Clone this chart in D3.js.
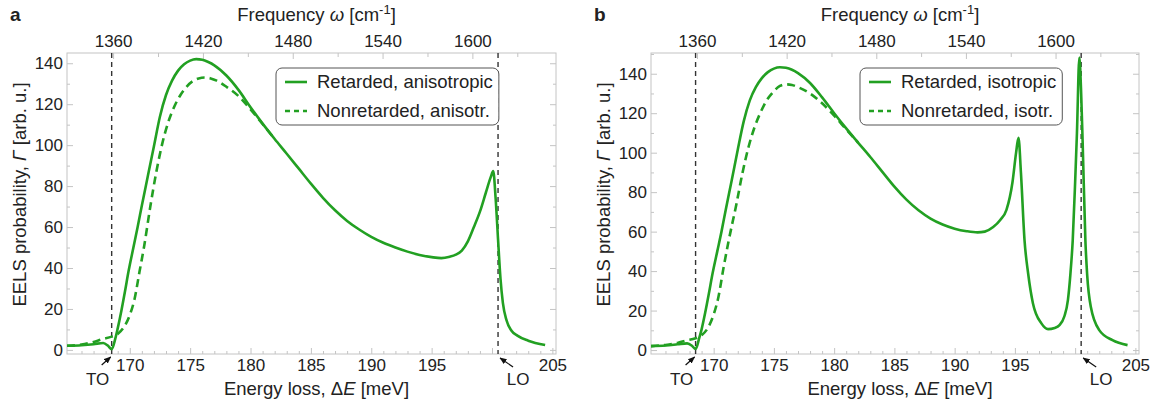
<!doctype html>
<html>
<head>
<meta charset="utf-8">
<title>EELS probability</title>
<script src="https://cdn.jsdelivr.net/npm/d3@7"></script>
<style>
  body { margin: 0; background: #fff; }
  text { font-family: "Liberation Sans", Arial, sans-serif; fill: #222; }
</style>
</head>
<body>
<script>
// ---- data ----
// panel a: retarded, anisotropic
const energyRetA = [164.8, 166, 167, 167.8, 168.2, 168.5, 168.8, 169, 169.3, 169.6, 169.9, 170.3, 170.65, 171, 171.5, 172, 172.5, 173, 173.5, 174, 174.5, 175, 175.5, 176, 176.5, 177, 178, 179, 180, 181, 182, 183, 184, 185, 186, 187, 188, 189, 190, 191, 192, 193, 194, 195, 195.8, 196.5, 197, 197.5, 198, 198.5, 199, 199.5, 199.9, 200.1, 200.3, 200.5, 200.7, 200.9, 201.2, 201.6, 202.1, 203, 204.4];
const retardedAniso = [2.0, 2.3, 2.8, 3.4, 2.0, 0.3, 5.5, 10.5, 19, 28.5, 38.5, 50, 60, 70.5, 85, 99.5, 114, 124.5, 131.5, 136.4, 139.5, 141.3, 142, 141.7, 140.6, 139, 134, 127, 118.5, 110.5, 103, 95.8, 88.5, 81.2, 74.3, 68.2, 63, 58.8, 55.2, 52.3, 50, 48, 46.4, 45.3, 44.8, 45.5, 46.5, 48.5, 53, 60, 67.5, 77, 84.5, 87.3, 74, 54, 35, 23, 14.5, 9.5, 7, 4.5, 2.4];
// panel a: nonretarded, anisotropic (drawn until it merges with the retarded curve)
const energyNonA = [164.8, 166, 167, 167.7, 168.5, 169, 169.5, 170, 170.4, 170.8, 171.2, 171.7, 172.2, 172.7, 173.2, 173.7, 174.2, 174.7, 175.2, 175.7, 176.2, 176.7, 177.2, 178, 179, 180, 181, 182];
const nonretardedAniso = [2.0, 2.6, 3.9, 5.2, 6.5, 7.8, 11, 17, 25, 38, 51, 70, 87, 101, 111.5, 119, 124.5, 128.5, 131.2, 132.6, 133, 132.6, 131.5, 128.5, 124, 117.5, 110.3, 103];

// panel b: retarded, isotropic
const energyRetB = [164.8, 166, 167, 167.8, 168.2, 168.5, 168.8, 169, 169.3, 169.6, 169.9, 170.3, 170.65, 171, 171.5, 172, 172.5, 173, 173.5, 174, 174.5, 175, 175.5, 176, 176.5, 177, 178, 179, 180, 181, 182, 183, 184, 185, 186, 187, 188, 189, 190, 191, 191.9, 192.5, 193.2, 193.8, 194.3, 194.8, 195.1, 195.3, 195.5, 195.8, 196.1, 196.5, 197.2, 197.75, 198.3, 198.7, 199.1, 199.4, 199.6, 199.8, 200, 200.15, 200.35, 200.5, 200.62, 200.85, 201, 201.3, 202, 203.1, 204.35];
const retardedIso = [2.0, 2.3, 2.9, 3.4, 2.2, 0.5, 6, 10.5, 19, 28.5, 38.5, 50, 60, 71, 86, 101.5, 116, 126.5, 133.2, 137.8, 140.8, 142.6, 143.3, 143, 142, 140.3, 135.3, 128, 120, 112.3, 105, 97.8, 90.3, 82.8, 76.2, 70.8, 66.6, 63.6, 61.5, 60.2, 59.6, 60, 62.3, 66, 71, 85, 100, 107.6, 90, 55.6, 38.8, 23.6, 13.5, 10.6, 11.2, 12.6, 17, 25.3, 38, 55.6, 85, 110, 148.2, 130, 106, 55.6, 38, 21.9, 10.1, 5.0, 2.5];
// panel b: nonretarded, isotropic
const energyNonB = [164.8, 166, 167, 167.7, 168.5, 169, 169.5, 170, 170.4, 170.8, 171.2, 171.9, 172.4, 172.9, 173.4, 173.9, 174.4, 174.9, 175.5, 176, 176.5, 177, 178, 179, 180, 181, 182];
const nonretardedIso = [2.0, 2.6, 3.6, 4.8, 6.0, 7.5, 11, 18, 27, 41, 54, 74.3, 90, 103, 113, 120.5, 126.5, 130.5, 133.8, 134.6, 134.3, 133.2, 130, 125, 118.8, 111.8, 105];

// phonon energies (meV) and axis ticks
const phononTO = 168.5;
const phononLO = 200.5;
const energyTicks = [170, 175, 180, 185, 190, 195, 205];
const frequencyTicks = [1360, 1420, 1480, 1540, 1600];
const frequencyMinor = [1390, 1450, 1510, 1570, 1630];
const probabilityTicks = [0, 20, 40, 60, 80, 100, 120, 140];

const energyDomain = [164.8, 205.3];
const meVtoCm = 8.06554;
const green = '#22a022';
const tickGray = '#c4c4c4';

const svg = d3.select('body').append('svg')
    .attr('width', 1159)
    .attr('height', 408);

const defs = svg.append('defs');
defs.append('marker')
    .attr('id', 'arrow')
    .attr('viewBox', '0 0 10 10')
    .attr('refX', 9).attr('refY', 5)
    .attr('markerWidth', 6).attr('markerHeight', 6)
    .attr('orient', 'auto')
  .append('path')
    .attr('d', 'M0,1 L10,5 L0,9 Z')
    .attr('fill', '#111');

function styleAxis(g) {
  g.select('.domain').remove();
  g.attr('font-family', null).attr('font-size', null);
  g.selectAll('line').attr('stroke', tickGray);
  g.selectAll('text').attr('fill', '#222').style('font-size', '17px');
}

function drawPanel(p) {
  const x = d3.scaleLinear().domain(energyDomain).range([p.left, p.right]);
  const xTop = d3.scaleLinear().domain(energyDomain.map(d => d * meVtoCm)).range([p.left, p.right]);
  const y = d3.scaleLinear().domain(p.yDomain).range([p.bottom, p.top]);
  const g = svg.append('g');

  // minor ticks
  const minorE = d3.range(166, 205, 1).filter(d => !energyTicks.includes(d) && d !== 200);
  g.append('g').attr('transform', `translate(0,${p.bottom})`)
      .call(d3.axisBottom(x).tickValues(minorE).tickSize(-3).tickFormat(''))
      .call(styleAxis);
  g.append('g').attr('transform', `translate(0,${p.top})`)
      .call(d3.axisTop(xTop).tickValues(frequencyMinor).tickSize(-4).tickFormat(''))
      .call(styleAxis);
  const minorY = d3.range(10, p.yDomain[1], 20);
  g.append('g').attr('transform', `translate(${p.left},0)`)
      .call(d3.axisLeft(y).tickValues(minorY).tickSize(-3).tickFormat(''))
      .call(styleAxis);
  g.append('g').attr('transform', `translate(${p.right},0)`)
      .call(d3.axisRight(y).tickValues(minorY).tickSize(-3).tickFormat(''))
      .call(styleAxis);

  // major ticks + labels
  g.append('g').attr('transform', `translate(0,${p.bottom})`)
      .call(d3.axisBottom(x).tickValues(energyTicks.concat([200])).tickSize(-6).tickPadding(5)
        .tickFormat(d => d === 200 ? '' : d))
      .call(styleAxis);
  g.append('g').attr('transform', `translate(0,${p.top})`)
      .call(d3.axisTop(xTop).tickValues(frequencyTicks).tickSize(-6).tickPadding(6)
        .tickFormat(d3.format('d')))
      .call(styleAxis);
  g.append('g').attr('transform', `translate(${p.left},0)`)
      .call(d3.axisLeft(y).tickValues(probabilityTicks).tickSize(-6).tickPadding(4))
      .call(styleAxis);
  g.append('g').attr('transform', `translate(${p.right},0)`)
      .call(d3.axisRight(y).tickValues(probabilityTicks).tickSize(-6).tickFormat(''))
      .call(styleAxis);

  // frame
  g.append('rect')
      .attr('x', p.left).attr('y', p.top)
      .attr('width', p.right - p.left).attr('height', p.bottom - p.top)
      .attr('fill', 'none').attr('stroke', tickGray).attr('stroke-width', 1);

  // phonon lines
  [phononTO, phononLO].forEach(e => {
    g.append('line')
        .attr('x1', x(e)).attr('x2', x(e))
        .attr('y1', p.top).attr('y2', p.bottom)
        .attr('stroke', '#333').attr('stroke-width', 1.4)
        .attr('stroke-dasharray', '5,4');
  });

  // curves
  const clipId = 'clip-' + p.name;
  defs.append('clipPath').attr('id', clipId)
    .append('rect')
      .attr('x', p.left).attr('y', p.top - 2)
      .attr('width', p.right - p.left).attr('height', p.bottom - p.top + 2);
  const line = d3.line()
      .x(d => x(d[0]))
      .y(d => y(d[1]))
      .curve(d3.curveMonotoneX);
  const curves = g.append('g').attr('clip-path', `url(#${clipId})`);
  curves.append('path')
      .attr('d', line(d3.zip(p.nonE, p.nonV)))
      .attr('fill', 'none').attr('stroke', green).attr('stroke-width', 2.6)
      .attr('stroke-dasharray', '8,5');
  curves.append('path')
      .attr('d', line(d3.zip(p.retE, p.retV)))
      .attr('fill', 'none').attr('stroke', green).attr('stroke-width', 2.6);

  // TO / LO labels with arrows
  const xt = x(phononTO), xl = x(phononLO);
  g.append('line')
      .attr('x1', xt - 10).attr('y1', p.bottom + 11)
      .attr('x2', xt - 1).attr('y2', p.bottom + 3)
      .attr('stroke', '#111').attr('stroke-width', 1.2)
      .attr('marker-end', 'url(#arrow)');
  g.append('text').attr('x', xt - 14).attr('y', 385)
      .attr('text-anchor', 'middle').style('font-size', '17px').text('TO');
  g.append('line')
      .attr('x1', xl + 15).attr('y1', p.bottom + 13)
      .attr('x2', xl + 2).attr('y2', p.bottom + 4)
      .attr('stroke', '#111').attr('stroke-width', 1.2)
      .attr('marker-end', 'url(#arrow)');
  g.append('text').attr('x', xl + 20).attr('y', 385)
      .attr('text-anchor', 'middle').style('font-size', '17px').text('LO');

  // axis titles
  const cx = (p.left + p.right) / 2;
  const top = g.append('text').attr('x', cx + 5).attr('y', 21)
      .attr('text-anchor', 'middle').style('font-size', '18.5px');
  top.append('tspan').text('Frequency ');
  top.append('tspan').attr('font-style', 'italic').text('ω');
  top.append('tspan').text(' [cm');
  top.append('tspan').attr('dy', -7).style('font-size', '13px').text('-1');
  top.append('tspan').attr('dy', 7).text(']');

  const bot = g.append('text').attr('x', cx + 5).attr('y', 395)
      .attr('text-anchor', 'middle').style('font-size', '18.5px');
  bot.append('tspan').text('Energy loss, Δ');
  bot.append('tspan').attr('font-style', 'italic').text('E');
  bot.append('tspan').text(' [meV]');

  const yt = g.append('text')
      .attr('transform', `translate(${p.left - 41},${(p.top + p.bottom) / 2 - 9}) rotate(-90)`)
      .attr('text-anchor', 'middle').style('font-size', '18.5px');
  yt.append('tspan').text('EELS probability, ');
  yt.append('tspan').attr('font-style', 'italic').text('Γ');
  yt.append('tspan').text(' [arb. u.]');

  // panel letter
  g.append('text').attr('x', p.left - 57).attr('y', 21)
      .attr('font-weight', 'bold').style('font-size', '19px').text(p.name);

  // legend
  const lx = p.left + 209;
  const lg = g.append('g');
  const box = lg.append('rect')
      .attr('y', 68).attr('height', 57).attr('rx', 6)
      .attr('fill', '#fff').attr('stroke', '#555').attr('stroke-width', 1);
  let maxW = 0;
  p.legend.forEach((label, i) => {
    const ry = 82 + i * 29;
    lg.append('line')
        .attr('x1', lx + 9).attr('x2', lx + 31)
        .attr('y1', ry).attr('y2', ry)
        .attr('stroke', green).attr('stroke-width', 2.6)
        .attr('stroke-dasharray', i === 1 ? '5,4' : null);
    const t = lg.append('text').attr('x', lx + 41).attr('y', ry + 6)
        .style('font-size', '18.5px').text(label);
    maxW = Math.max(maxW, t.node().getComputedTextLength());
  });
  box.attr('x', lx).attr('width', 41 + maxW + 6);
}

drawPanel({
  name: 'a', left: 67, right: 556, top: 53, bottom: 354,
  yDomain: [-2, 145],
  retE: energyRetA, retV: retardedAniso,
  nonE: energyNonA, nonV: nonretardedAniso,
  legend: ['Retarded, anisotropic', 'Nonretarded, anisotr.']
});
drawPanel({
  name: 'b', left: 651, right: 1139, top: 53, bottom: 354,
  yDomain: [-2, 150.5],
  retE: energyRetB, retV: retardedIso,
  nonE: energyNonB, nonV: nonretardedIso,
  legend: ['Retarded, isotropic', 'Nonretarded, isotr.']
});
</script>
</body>
</html>
